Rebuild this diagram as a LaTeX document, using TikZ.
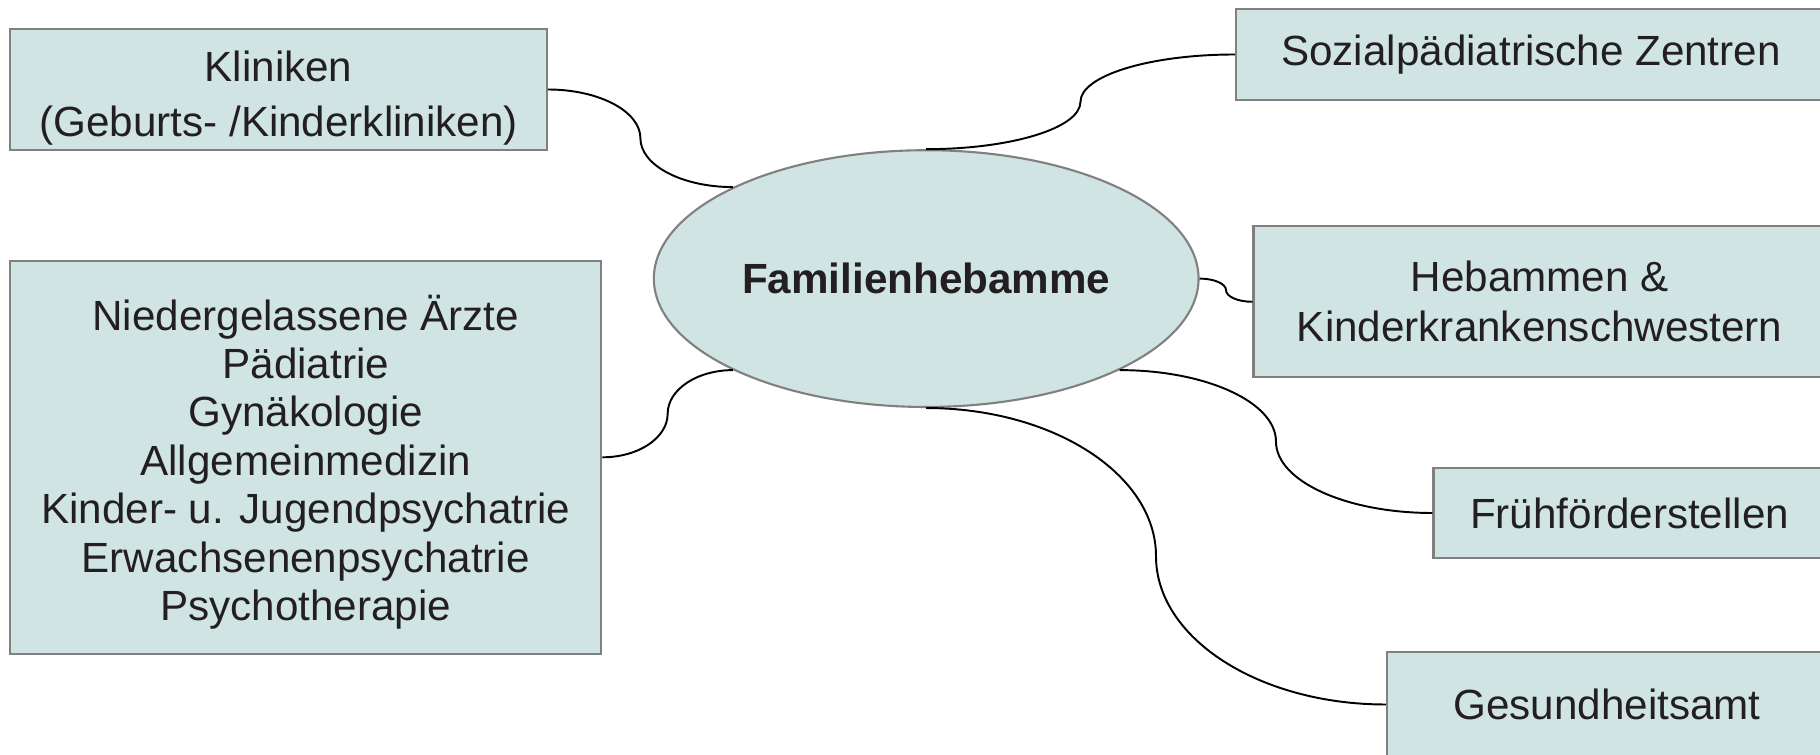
\documentclass[tikz,border=0pt]{standalone}
\usepackage{fontspec}
\setmainfont{Liberation Sans}
\usetikzlibrary{calc,shapes.geometric}

\definecolor{feldgruen}{RGB}{208,229,227}
\definecolor{randgrau}{RGB}{128,128,128}
\definecolor{schrift}{RGB}{35,31,32}

\tikzstyle{feld}= [rectangle,draw=randgrau,line width=0.6pt,fill=feldgruen,text=schrift,inner sep=0pt,align=center,font=\fontsize{12}{14.2}\selectfont]
\tikzstyle{mitte}= [ellipse,draw=randgrau,line width=0.6pt,fill=feldgruen,text=schrift,inner sep=0pt,font=\fontsize{12}{14.2}\selectfont\bfseries]
\tikzstyle{verbindung}= [black,line width=0.55pt]

\begin{document}
\begin{tikzpicture}[x=0.01cm,y=-0.01cm]

		\useasboundingbox (0,0) rectangle (1820,755);
		\clip (0,0) rectangle (1820,755);

		\node (fam) at (926.2,278.6) [mitte,minimum width=5.444cm,minimum height=2.566cm] {Familienhebamme};

		\node (kli) at (278.6,89.5) [feld,minimum width=5.363cm,minimum height=1.21cm,font=\fontsize{12}{15.5}\selectfont,text height=27.1pt,text depth=0.5pt] {Kliniken\\(Geburts- /Kinderkliniken)};

		\node (nie) at (305.8,457.3) [feld,minimum width=5.909cm,minimum height=3.923cm,font=\fontsize{12}{13.76}\selectfont,text height=94.8pt,text depth=2pt] {Niedergelassene Ärzte\\Pädiatrie\\Gynäkologie\\Allgemeinmedizin\\Kinder- u. Jugendpsychatrie\\Erwachsenenpsychatrie\\Psychotherapie};

		\node (soz) at (1531,54.5) [feld,minimum width=5.9cm,minimum height=0.905cm] {Sozialpädiatrische Zentren};

		\node (heb) at (1539.7,301.8) [feld,minimum width=5.72cm,minimum height=1.51cm] {Hebammen \&\\Kinderkrankenschwestern};

		\node (fru) at (1629.6,513) [feld,minimum width=3.92cm,minimum height=0.905cm] {Frühförderstellen};

		\node (ges) at (1607,704.5) [feld,minimum width=4.4cm,minimum height=1.044cm] {Gesundheitsamt};

		% zwei Viertelellipsen je Verbindung
		\foreach \a/\b in {kli.east/fam.north west, nie.east/fam.south west, fam.north/soz.west, fam.east/heb.west, fam.south east/fru.west, fam.south/ges.west}{
			\coordinate (m) at ($(\a)!0.5!(\b)$);
			\coordinate (c1) at (m |- \a);
			\coordinate (c2) at (m |- \b);
			\draw[verbindung] (\a) .. controls ($(\a)!0.552!(c1)$) and ($(m)!0.552!(c1)$) .. (m)
				.. controls ($(m)!0.552!(c2)$) and ($(\b)!0.552!(c2)$) .. (\b);
		}

	\end{tikzpicture}
\end{document}
